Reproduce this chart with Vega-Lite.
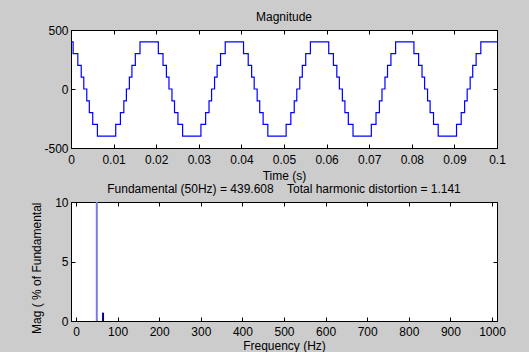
{
  "$schema": "https://vega.github.io/schema/vega-lite/v6.json",
  "background": "#cccccc",
  "padding": {"left": 30, "top": 10, "right": 25, "bottom": 5},
  "spacing": 0,
  "config": {
    "font": "Liberation Sans",
    "view": {"stroke": "#000000", "strokeWidth": 1, "fill": "#ffffff"},
    "axis": {
      "labelFont": "Liberation Sans", "labelFontSize": 12, "labelColor": "#000000",
      "titleFont": "Liberation Sans", "titleFontSize": 12, "titleFontWeight": "normal", "titleColor": "#000000",
      "tickColor": "#000000", "domainColor": "#000000", "tickSize": -4, "labelPadding": 7,
      "grid": false, "labelFlush": false, "labelOverlap": false
    },
    "title": {"font": "Liberation Sans", "fontSize": 12, "fontWeight": "normal", "color": "#000000", "frame": "group"}
  },
  "vconcat": [
    {
      "title": {"text": "Magnitude", "offset": 0},
      "width": 426,
      "height": 118,
      "data": {"values": [
        {"t": 0, "v": 400}, {"t": 0.0005, "v": 300}, {"t": 0.0016, "v": 200}, {"t": 0.0024, "v": 100}, {"t": 0.0030, "v": 0}, {"t": 0.0037, "v": -100}, {"t": 0.0043, "v": -200}, {"t": 0.0051, "v": -300}, {"t": 0.0062, "v": -400},
        {"t": 0.0105, "v": -300}, {"t": 0.0116, "v": -200}, {"t": 0.0124, "v": -100}, {"t": 0.0130, "v": 0}, {"t": 0.0137, "v": 100}, {"t": 0.0143, "v": 200}, {"t": 0.0151, "v": 300}, {"t": 0.0162, "v": 400},
        {"t": 0.0205, "v": 300}, {"t": 0.0216, "v": 200}, {"t": 0.0224, "v": 100}, {"t": 0.0230, "v": 0}, {"t": 0.0237, "v": -100}, {"t": 0.0243, "v": -200}, {"t": 0.0251, "v": -300}, {"t": 0.0262, "v": -400},
        {"t": 0.0305, "v": -300}, {"t": 0.0316, "v": -200}, {"t": 0.0324, "v": -100}, {"t": 0.0330, "v": 0}, {"t": 0.0337, "v": 100}, {"t": 0.0343, "v": 200}, {"t": 0.0351, "v": 300}, {"t": 0.0362, "v": 400},
        {"t": 0.0405, "v": 300}, {"t": 0.0416, "v": 200}, {"t": 0.0424, "v": 100}, {"t": 0.0430, "v": 0}, {"t": 0.0437, "v": -100}, {"t": 0.0443, "v": -200}, {"t": 0.0451, "v": -300}, {"t": 0.0462, "v": -400},
        {"t": 0.0505, "v": -300}, {"t": 0.0516, "v": -200}, {"t": 0.0524, "v": -100}, {"t": 0.0530, "v": 0}, {"t": 0.0537, "v": 100}, {"t": 0.0543, "v": 200}, {"t": 0.0551, "v": 300}, {"t": 0.0562, "v": 400},
        {"t": 0.0605, "v": 300}, {"t": 0.0616, "v": 200}, {"t": 0.0624, "v": 100}, {"t": 0.0630, "v": 0}, {"t": 0.0637, "v": -100}, {"t": 0.0643, "v": -200}, {"t": 0.0651, "v": -300}, {"t": 0.0662, "v": -400},
        {"t": 0.0705, "v": -300}, {"t": 0.0716, "v": -200}, {"t": 0.0724, "v": -100}, {"t": 0.0730, "v": 0}, {"t": 0.0737, "v": 100}, {"t": 0.0743, "v": 200}, {"t": 0.0751, "v": 300}, {"t": 0.0762, "v": 400},
        {"t": 0.0805, "v": 300}, {"t": 0.0816, "v": 200}, {"t": 0.0824, "v": 100}, {"t": 0.0830, "v": 0}, {"t": 0.0837, "v": -100}, {"t": 0.0843, "v": -200}, {"t": 0.0851, "v": -300}, {"t": 0.0862, "v": -400},
        {"t": 0.0905, "v": -300}, {"t": 0.0916, "v": -200}, {"t": 0.0924, "v": -100}, {"t": 0.0930, "v": 0}, {"t": 0.0937, "v": 100}, {"t": 0.0943, "v": 200}, {"t": 0.0951, "v": 300}, {"t": 0.0962, "v": 400},
        {"t": 0.1, "v": 400}
      ]},
      "layer": [
        {
          "mark": {"type": "line", "interpolate": "step-after", "color": "#0000ff", "strokeWidth": 1.2, "clip": true},
          "encoding": {
            "x": {"field": "t", "type": "quantitative", "scale": {"domain": [0, 0.1], "nice": false, "zero": false},
                  "axis": {"orient": "bottom", "title": "Time (s)", "values": [0, 0.01, 0.02, 0.03, 0.04, 0.05, 0.06, 0.07, 0.08, 0.09, 0.1], "format": "~g", "labelPadding": 10, "titlePadding": 5}},
            "y": {"field": "v", "type": "quantitative", "scale": {"domain": [-500, 500], "nice": false},
                  "axis": {"orient": "left", "title": null, "values": [-500, 0, 500], "labelExpr": "replace(datum.label, '\u2212', '-')"}}
          }
        },
        {
          "mark": {"type": "line", "opacity": 0, "clip": true},
          "encoding": {
            "x": {"field": "t", "type": "quantitative", "axis": {"orient": "top", "title": null, "labels": false, "domain": false, "minExtent": 0, "maxExtent": 0, "labelPadding": 0, "values": [0, 0.01, 0.02, 0.03, 0.04, 0.05, 0.06, 0.07, 0.08, 0.09, 0.1]}},
            "y": {"field": "v", "type": "quantitative", "axis": {"orient": "right", "title": null, "labels": false, "domain": false, "minExtent": 0, "maxExtent": 0, "labelPadding": 0, "values": [-500, 0, 500]}}
          }
        }
      ],
      "resolve": {"axis": {"x": "independent", "y": "independent"}}
    },
    {
      "title": {"text": "Fundamental (50Hz) = 439.608\u00a0\u00a0\u00a0\u00a0Total harmonic distortion = 1.141", "offset": 0},
      "width": 426,
      "height": 119,
      "data": {"values": [
        {"freq": 50, "mag": 100},
        {"freq": 65, "mag": 0.7}
      ]},
      "layer": [
        {
          "mark": {"type": "bar", "width": 2, "clip": true},
          "encoding": {
            "x": {"field": "freq", "type": "quantitative", "scale": {"domain": [0, 1000], "nice": false},
                  "axis": {"orient": "bottom", "title": "Frequency (Hz)", "values": [0, 100, 200, 300, 400, 500, 600, 700, 800, 900, 1000], "format": "d", "labelPadding": 9, "titlePadding": 3}},
            "y": {"field": "mag", "type": "quantitative", "scale": {"domain": [0, 10], "nice": false},
                  "axis": {"orient": "left", "title": "Mag ( % of Fundamental", "titleAnchor": "end", "values": [0, 5, 10], "titlePadding": 11}},
            "color": {"condition": {"test": "datum.freq == 50", "value": "#7b7be0"}, "value": "#00008b"}
          }
        },
        {
          "mark": {"type": "bar", "opacity": 0, "width": 2, "clip": true},
          "encoding": {
            "x": {"field": "freq", "type": "quantitative", "axis": {"orient": "top", "title": null, "labels": false, "domain": false, "minExtent": 0, "maxExtent": 0, "labelPadding": 0, "values": [0, 100, 200, 300, 400, 500, 600, 700, 800, 900, 1000]}},
            "y": {"field": "mag", "type": "quantitative", "axis": {"orient": "right", "title": null, "labels": false, "domain": false, "minExtent": 0, "maxExtent": 0, "labelPadding": 0, "values": [0, 5, 10]}}
          }
        }
      ],
      "resolve": {"axis": {"x": "independent", "y": "independent"}}
    }
  ]
}
